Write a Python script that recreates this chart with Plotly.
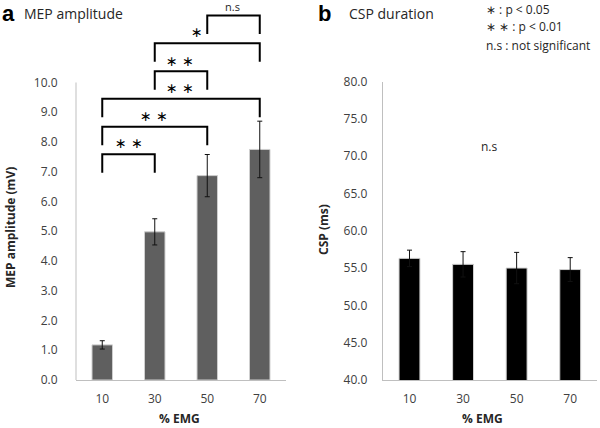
import plotly.graph_objects as go

# ---------------- data ----------------
emg_levels = ["10", "30", "50", "70"]
mep_amp = [1.18, 4.98, 6.87, 7.75]
mep_err = [0.14, 0.44, 0.71, 0.95]
csp_dur = [56.3, 55.5, 55.0, 54.8]
csp_err = [1.1, 1.7, 2.1, 1.6]

# significance brackets on panel a
bracket_start = ["10", "10", "10", "30", "30", "50"]
bracket_end = ["30", "50", "70", "50", "70", "70"]
bracket_level = [7.59, 8.51, 9.45, 10.38, 11.32, 12.25]
bracket_drop = 0.62

sig_text = ["∗ ∗", "∗ ∗", "∗ ∗", "∗ ∗", "∗", "n.s"]
sig_x = [0.51, 0.99, 1.48, 1.48, 1.81, 2.49]
sig_y = [7.98, 8.87, 9.83, 10.73, 11.69, 12.57]

W, H = 600, 428
FONT = "Open Sans"
TXT = "#262626"

fig = go.Figure()

fig.add_trace(go.Bar(
    x=emg_levels, y=mep_amp, width=0.39,
    marker=dict(color="#5f5f5f", line=dict(color="#cfcfcf", width=1)),
    error_y=dict(type="data", array=mep_err, color="#111111", thickness=1, width=2.5),
    xaxis="x", yaxis="y", showlegend=False,
))
fig.add_trace(go.Bar(
    x=emg_levels, y=csp_dur, width=0.39,
    marker=dict(color="#000000", line=dict(color="#d0d0d0", width=1)),
    error_y=dict(type="data", array=csp_err, color="#111111", thickness=1, width=2.5),
    xaxis="x2", yaxis="y2", showlegend=False,
))

for s, e, lv in zip(bracket_start, bracket_end, bracket_level):
    fig.add_trace(go.Scatter(
        x=[s, s, e, e], y=[lv - bracket_drop, lv, lv, lv - bracket_drop],
        mode="lines", line=dict(color="#000000", width=2),
        xaxis="x", yaxis="y", showlegend=False, hoverinfo="skip",
    ))

annotations = []
for t, xx, yy in zip(sig_text, sig_x, sig_y):
    if t == "n.s":
        font = dict(family=FONT, size=11, color=TXT)
    else:
        font = dict(family="DejaVu Sans", size=14, color="#000000")
    annotations.append(dict(text=t, x=xx, y=yy, xref="x", yref="y",
                            showarrow=False, font=font))

annotations.append(dict(text="n.s", x=1.5, y=71.3, xref="x2", yref="y2",
                        showarrow=False, font=dict(family=FONT, size=12, color=TXT)))


def px(x):
    return x / W


def py(y):
    return 1 - y / H


# panel titles, legend and axis titles
annotations += [
    dict(text="<b>a</b>", x=px(0), y=py(14), xanchor="left", yanchor="middle",
         font=dict(family="Liberation Sans", size=22, color="#000")),
    dict(text="MEP amplitude", x=px(22), y=py(14), xanchor="left", yanchor="middle",
         font=dict(family=FONT, size=14, color=TXT)),
    dict(text="<b>b</b>", x=px(316), y=py(14), xanchor="left", yanchor="middle",
         font=dict(family="Liberation Sans", size=22, color="#000")),
    dict(text="CSP duration", x=px(347), y=py(14), xanchor="left", yanchor="middle",
         font=dict(family=FONT, size=14, color=TXT)),
    dict(text="∗ : p < 0.05", x=px(484), y=py(10), xanchor="left", yanchor="middle",
         font=dict(family=FONT, size=12, color=TXT)),
    dict(text="∗ ∗ : p < 0.01", x=px(484), y=py(27), xanchor="left", yanchor="middle",
         font=dict(family=FONT, size=12, color=TXT)),
    dict(text="n.s : not significant", x=px(484), y=py(45), xanchor="left", yanchor="middle",
         font=dict(family=FONT, size=12, color=TXT)),
    dict(text="<b>MEP amplitude (mV)</b>", x=px(11), y=py(228), textangle=-90,
         xanchor="center", yanchor="middle", font=dict(family=FONT, size=12, color=TXT)),
    dict(text="<b>CSP (ms)</b>", x=px(323), y=py(230), textangle=-90,
         xanchor="center", yanchor="middle", font=dict(family=FONT, size=12, color=TXT)),
    dict(text="<b>% EMG</b>", x=px(179), y=py(418), xanchor="center", yanchor="middle",
         font=dict(family=FONT, size=12, color=TXT)),
    dict(text="<b>% EMG</b>", x=px(482), y=py(418), xanchor="center", yanchor="middle",
         font=dict(family=FONT, size=12, color=TXT)),
]
for a in annotations:
    a.setdefault("xref", "paper")
    a.setdefault("yref", "paper")
    a.setdefault("showarrow", False)

left_ymax = 378 / 29.75

axis_common = dict(showgrid=False, zeroline=False, automargin=False,
                   tickfont=dict(family=FONT, size=12, color="#404040"))

fig.update_layout(
    width=W, height=H, autosize=False,
    margin=dict(l=0, r=0, t=0, b=0, pad=0, autoexpand=False),
    paper_bgcolor="white", plot_bgcolor="white",
    xaxis=dict(domain=[px(76), px(286)], type="category", range=[-0.5, 3.5],
               showline=True, linecolor="#bfbfbf", linewidth=1,
               ticks="outside", ticklen=8, tickcolor="rgba(0,0,0,0)", anchor="y",
               **axis_common),
    yaxis=dict(domain=[py(380), py(2)], range=[0, left_ymax],
               tickvals=list(range(0, 11)), tickformat=".1f",
               showline=False, ticks="outside", ticklen=15, tickcolor="rgba(0,0,0,0)",
               anchor="x", **axis_common),
    xaxis2=dict(domain=[px(382.7), px(597)], type="category", range=[-0.5, 3.5],
                showline=True, linecolor="#bfbfbf", linewidth=1,
                ticks="outside", ticklen=8, tickcolor="rgba(0,0,0,0)", anchor="y2",
                **axis_common),
    yaxis2=dict(domain=[py(380), py(81.5)], range=[40, 80], dtick=5, tickformat=".1f",
                showline=True, linecolor="#bfbfbf", linewidth=1,
                ticks="outside", ticklen=12, tickcolor="rgba(0,0,0,0)",
                anchor="x2", **axis_common),
    annotations=annotations,
    shapes=[dict(type="line", xref="x domain", yref="y", x0=0, x1=0, y0=0, y1=10,
                 line=dict(color="#bfbfbf", width=1))],
)

fig.write_html(
    "out.html",
    config={"displayModeBar": False},
    post_script="document.body.style.margin='0';document.documentElement.style.overflow='hidden';",
)
